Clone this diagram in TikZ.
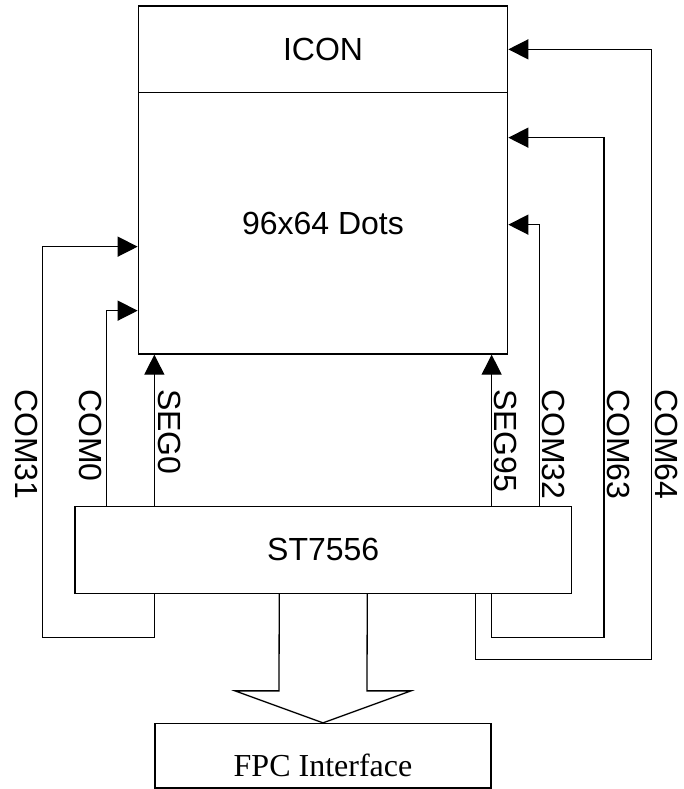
\documentclass[tikz,border=0pt]{standalone}
\usepackage{fontspec}
\setmainfont{Liberation Serif}
\setsansfont{Liberation Sans}
\usetikzlibrary{arrows.meta}

\begin{document}
\begin{tikzpicture}[
  x=1pt, y=-1pt,
  font=\sffamily\fontsize{32}{38}\selectfont,
  box/.style={draw, line width=1.3pt, inner sep=0pt, minimum width=369.4pt},
  sig/.style={line width=1.3pt, -{Triangle[length=20pt, width=20pt]}},
  wire/.style={line width=1.3pt},
  lbl/.style={rotate=-90, anchor=base west, inner sep=0pt}
]
\useasboundingbox (0,0) rectangle (683,789);
% panel: icon row on top of the dot matrix
\node[box, minimum height=86.7pt] (icon) at (323,49.35) {ICON};
\node[box, minimum height=261.3pt] (dots) at (323,223.35) {96x64 Dots};
% driver and connector
\node[box, minimum width=496.5pt, minimum height=86.8pt] (st) at (323.25,549.9) {ST7556};
\node[box, minimum width=336pt, minimum height=64.5pt, font=\rmfamily\fontsize{32}{38}\selectfont,
  text height=42pt, text depth=0pt] (fpc) at (323,755.75) {FPC Interface};
% segment lines
\draw[sig] ([xshift=80pt]st.north west) -- ([xshift=80pt]st.north west |- dots.south);
\draw[sig] ([xshift=-80.5pt]st.north east) -- ([xshift=-80.5pt]st.north east |- dots.south);
% common lines, left side
\draw[sig] ([xshift=32pt]st.north west) |- ([yshift=44pt]dots.south west);
\draw[sig] ([xshift=80pt]st.south west) -- ++(0,43.4) -- ++(-112,0) |- ([yshift=108pt]dots.south west);
% common lines, right side
\draw[sig] ([xshift=-32.5pt]st.north east) |- ([yshift=130pt]dots.south east);
\draw[sig] ([xshift=-80.5pt]st.south east) -- ++(0,43.4) -- ++(112.3,0) |- ([yshift=217pt]dots.south east);
\draw[sig] ([xshift=-96.5pt]st.south east) -- ++(0,65.4) -- ++(176,0) |- (icon.east);
% pin names
\foreach \txt/\x in {COM31/15, COM0/79, SEG0/158, SEG95/494, COM32/542, COM63/607, COM64/655}
  {\node[lbl] (\txt) at (\x,389) {\txt};}
% bus arrow down to the FPC
\draw[wire] ([xshift=-44pt]st.south) -- ([xshift=-44pt, yshift=32pt]fpc.north)
  -- ([xshift=-88pt, yshift=32pt]fpc.north) -- (fpc.north)
  -- ([xshift=88pt, yshift=32pt]fpc.north) -- ([xshift=44pt, yshift=32pt]fpc.north)
  -- ([xshift=44pt]st.south);
\end{tikzpicture}
\end{document}
